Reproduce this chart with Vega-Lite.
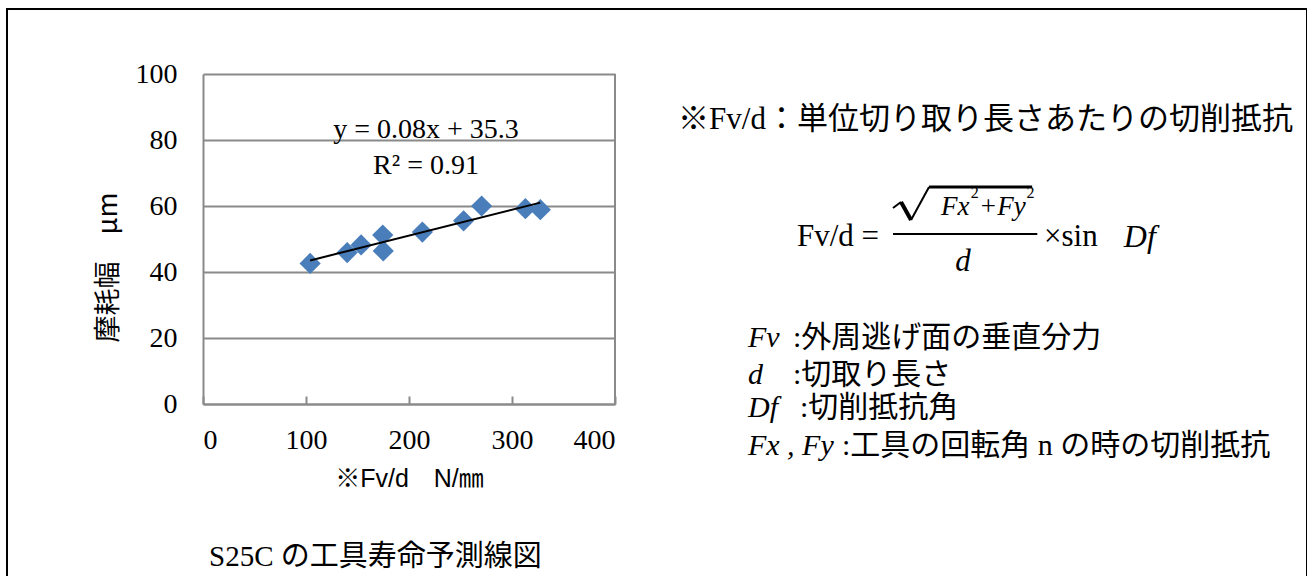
{
  "$schema": "https://vega.github.io/schema/vega-lite/v6.json",
  "width": 1300,
  "height": 600,
  "padding": {"left": 7, "top": 9, "right": 0, "bottom": 0},
  "autosize": {"type": "pad"},
  "background": "white",
  "config": {
    "view": {"stroke": "black", "strokeWidth": 2},
    "text": {"font": "Liberation Serif, Noto Sans CJK JP", "fontSize": 28, "color": "black", "align": "left", "baseline": "middle"}
  },
  "title": {
    "text": "S25C の工具寿命予測線図",
    "orient": "bottom",
    "anchor": "start",
    "frame": "group",
    "offset": -43,
    "dx": 202,
    "baseline": "alphabetic",
    "font": "Liberation Serif, Noto Sans CJK JP",
    "fontSize": 29,
    "fontWeight": "normal",
    "color": "black"
  },
  "datasets": {
    "wear": [
      {"fv_d": 104, "wear": 42.6},
      {"fv_d": 140, "wear": 45.9},
      {"fv_d": 153.5, "wear": 48.2},
      {"fv_d": 174.5, "wear": 51.2},
      {"fv_d": 175, "wear": 46.4},
      {"fv_d": 213, "wear": 52.1},
      {"fv_d": 253, "wear": 55.5},
      {"fv_d": 270.5, "wear": 60.0},
      {"fv_d": 313, "wear": 59.2},
      {"fv_d": 327.5, "wear": 58.9}
    ]
  },
  "layer": [
    {
      "data": {"name": "wear"},
      "mark": {"type": "point", "shape": "diamond", "filled": true, "size": 450, "color": "#4a7ebb", "opacity": 1},
      "encoding": {
        "x": {
          "field": "fv_d", "type": "quantitative",
          "scale": {"domain": [0, 400], "range": [196, 608], "nice": false, "zero": false},
          "axis": {
            "values": [0, 100, 200, 300, 400],
            "orient": "bottom",
            "offset": -205,
            "grid": false,
            "domainColor": "#8a8a8a", "domainWidth": 2,
            "ticks": true, "tickSize": -8, "tickColor": "#8a8a8a", "tickWidth": 2,
            "labelFont": "Liberation Serif", "labelFontSize": 28, "labelColor": "black", "labelPadding": 30,
            "title": "※Fv/d　N/㎜",
            "titleFont": "Liberation Sans, Noto Sans CJK JP", "titleFontSize": 25, "titleFontWeight": "normal", "titleColor": "black",
            "titleY": 82, "titleBaseline": "alphabetic"
          }
        },
        "y": {
          "field": "wear", "type": "quantitative",
          "scale": {"domain": [0, 100], "range": [395, 65], "nice": false, "zero": false},
          "axis": {
            "values": [0, 20, 40, 60, 80, 100],
            "orient": "left",
            "offset": -196,
            "grid": true, "gridColor": "#8a8a8a", "gridWidth": 2,
            "domainColor": "#8a8a8a", "domainWidth": 2,
            "ticks": false,
            "labelFont": "Liberation Serif", "labelFontSize": 28, "labelColor": "black", "labelPadding": 26,
            "title": "摩耗幅　μm",
            "titleFont": "Noto Sans CJK JP", "titleFontSize": 27, "titleFontWeight": "normal", "titleColor": "black",
            "titleX": -95, "titleY": 258, "titleAngle": -90, "titleAlign": "center", "titleBaseline": "middle"
          }
        }
      }
    },
    {
      "data": {"name": "wear"},
      "transform": [{"regression": "wear", "on": "fv_d", "method": "linear"}],
      "mark": {"type": "line", "color": "black", "strokeWidth": 2},
      "encoding": {
        "x": {"field": "fv_d", "type": "quantitative"},
        "y": {"field": "wear", "type": "quantitative"}
      }
    },
    {
      "data": {"values": [{}]},
      "mark": {"type": "rule", "color": "#8a8a8a", "strokeWidth": 2},
      "encoding": {"x": {"datum": 400}, "y": {"datum": 0}, "y2": {"datum": 100}}
    },
    {
      "data": {"values": [{}]},
      "mark": {"type": "text", "align": "center", "baseline": "alphabetic", "text": "y = 0.08x + 35.3"},
      "encoding": {"x": {"datum": 216.5}, "y": {"datum": 80.6}}
    },
    {
      "data": {"values": [{}]},
      "mark": {"type": "text", "align": "center", "baseline": "alphabetic", "text": "R² = 0.91"},
      "encoding": {"x": {"datum": 216.5}, "y": {"datum": 69.7}}
    },
    {
      "data": {"values": [{}]},
      "mark": {"type": "text", "fontSize": 31, "text": "※Fv/d：単位切り取り長さあたりの切削抵抗"},
      "encoding": {"x": {"datum": 461.2}, "y": {"datum": 86.06}}
    },
    {
      "data": {"values": [{}]},
      "mark": {"type": "text", "fontSize": 31, "text": "Fv/d ="},
      "encoding": {"x": {"datum": 576.7}, "y": {"datum": 50.6}}
    },
    {
      "data": {"values": [{}]},
      "mark": {"type": "rule", "color": "black", "strokeWidth": 2},
      "encoding": {"x": {"datum": 669.9}, "y": {"datum": 59.39}, "x2": {"datum": 677.7}, "y2": {"datum": 61.21}}
    },
    {
      "data": {"values": [{}]},
      "mark": {"type": "rule", "color": "black", "strokeWidth": 4},
      "encoding": {"x": {"datum": 677.7}, "y": {"datum": 61.21}, "x2": {"datum": 687.4}, "y2": {"datum": 55.76}}
    },
    {
      "data": {"values": [{}]},
      "mark": {"type": "rule", "color": "black", "strokeWidth": 2},
      "encoding": {"x": {"datum": 687.4}, "y": {"datum": 55.76}, "x2": {"datum": 704.9}, "y2": {"datum": 65.76}}
    },
    {
      "data": {"values": [{}]},
      "mark": {"type": "rule", "color": "black", "strokeWidth": 3},
      "encoding": {"x": {"datum": 704.9}, "x2": {"datum": 805}, "y": {"datum": 65.76}}
    },
    {
      "data": {"values": [{}]},
      "mark": {"type": "text", "fontSize": 27, "fontStyle": "italic", "text": "Fx"},
      "encoding": {"x": {"datum": 716.5}, "y": {"datum": 59.7}}
    },
    {
      "data": {"values": [{}]},
      "mark": {"type": "text", "fontSize": 16, "text": "2"},
      "encoding": {"x": {"datum": 745.5}, "y": {"datum": 64.0}}
    },
    {
      "data": {"values": [{}]},
      "mark": {"type": "text", "fontSize": 27, "fontStyle": "italic", "text": "+Fy"},
      "encoding": {"x": {"datum": 753.4}, "y": {"datum": 59.7}}
    },
    {
      "data": {"values": [{}]},
      "mark": {"type": "text", "fontSize": 16, "text": "2"},
      "encoding": {"x": {"datum": 799.5}, "y": {"datum": 64.0}}
    },
    {
      "data": {"values": [{}]},
      "mark": {"type": "rule", "color": "black", "strokeWidth": 2},
      "encoding": {"x": {"datum": 669.9}, "x2": {"datum": 810}, "y": {"datum": 51.5}}
    },
    {
      "data": {"values": [{}]},
      "mark": {"type": "text", "align": "center", "fontSize": 31, "fontStyle": "italic", "text": "d"},
      "encoding": {"x": {"datum": 737.9}, "y": {"datum": 43}}
    },
    {
      "data": {"values": [{}]},
      "mark": {"type": "text", "fontSize": 31, "text": "×sin"},
      "encoding": {"x": {"datum": 816.5}, "y": {"datum": 50.6}}
    },
    {
      "data": {"values": [{}]},
      "mark": {"type": "text", "fontSize": 32, "fontStyle": "italic", "text": "Df"},
      "encoding": {"x": {"datum": 894}, "y": {"datum": 50.6}}
    },
    {
      "data": {"values": [{}]},
      "mark": {"type": "text", "fontSize": 30, "fontStyle": "italic", "text": "Fv"},
      "encoding": {"x": {"datum": 529.1}, "y": {"datum": 20}}
    },
    {
      "data": {"values": [{}]},
      "mark": {"type": "text", "fontSize": 30, "text": ":外周逃げ面の垂直分力"},
      "encoding": {"x": {"datum": 572.8}, "y": {"datum": 20}}
    },
    {
      "data": {"values": [{}]},
      "mark": {"type": "text", "fontSize": 30, "fontStyle": "italic", "text": "d"},
      "encoding": {"x": {"datum": 529.1}, "y": {"datum": 8.79}}
    },
    {
      "data": {"values": [{}]},
      "mark": {"type": "text", "fontSize": 30, "text": ":切取り長さ"},
      "encoding": {"x": {"datum": 572.8}, "y": {"datum": 8.79}}
    },
    {
      "data": {"values": [{}]},
      "mark": {"type": "text", "fontSize": 30, "fontStyle": "italic", "text": "Df"},
      "encoding": {"x": {"datum": 529.1}, "y": {"datum": -1.21}}
    },
    {
      "data": {"values": [{}]},
      "mark": {"type": "text", "fontSize": 30, "text": ":切削抵抗角"},
      "encoding": {"x": {"datum": 579.6}, "y": {"datum": -1.21}}
    },
    {
      "data": {"values": [{}]},
      "mark": {"type": "text", "fontSize": 30, "fontStyle": "italic", "text": "Fx , Fy"},
      "encoding": {"x": {"datum": 529.1}, "y": {"datum": -12.73}}
    },
    {
      "data": {"values": [{}]},
      "mark": {"type": "text", "fontSize": 30, "text": ":工具の回転角 n の時の切削抵抗"},
      "encoding": {"x": {"datum": 620.4}, "y": {"datum": -12.73}}
    }
  ]
}
